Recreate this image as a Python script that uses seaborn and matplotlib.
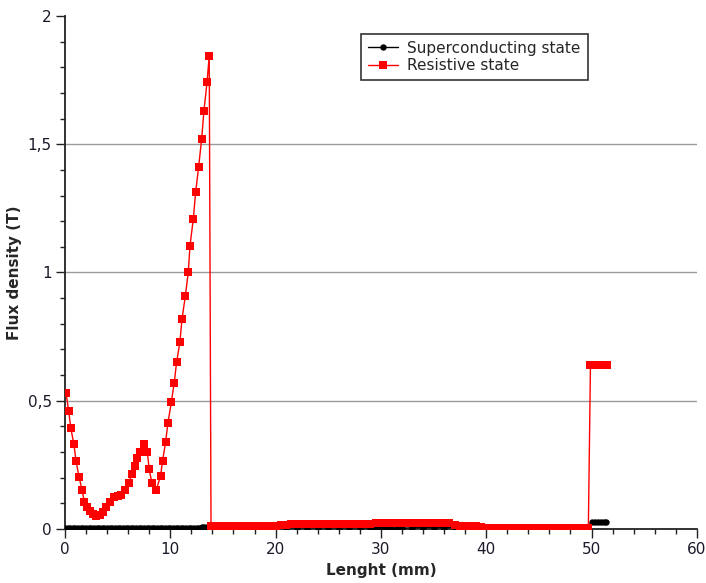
import numpy as np
import pandas as pd
import matplotlib
matplotlib.use("Agg")
import matplotlib.pyplot as plt
from matplotlib.ticker import MultipleLocator, FixedLocator, FixedFormatter
import seaborn as sns

# Resistive state: flux density along the sample (mm, T)
res_x = [0.1, 0.35, 0.55, 0.85, 1.05, 1.33, 1.63, 1.85, 2.1, 2.36, 2.67, 2.98,
         3.3, 3.61, 3.93, 4.24, 4.65, 5.03, 5.35, 5.73, 6.04, 6.36, 6.61, 6.87,
         7.15, 7.47, 7.82, 8.0, 8.26, 8.67, 9.08, 9.27, 9.56, 9.78, 10.1, 10.38,
         10.6, 10.92, 11.11, 11.43, 11.71, 11.87, 12.19, 12.41, 12.69, 12.98,
         13.2, 13.49, 13.7,
         13.87, 14.0, 14.5, 15.0, 15.5, 16.0, 16.5, 17.0, 17.5, 18.0, 18.5, 19.0,
         19.5, 20.0, 20.5, 21.0, 21.5, 22.0, 22.5, 23.0, 23.5, 24.0, 24.5, 25.0,
         25.5, 26.0, 26.5, 27.0, 27.5, 28.0, 28.5, 29.0, 29.5, 30.0, 30.5, 31.0,
         31.5, 32.0, 32.5, 33.0, 33.5, 34.0, 34.5, 35.0, 35.5, 36.0, 36.5, 37.0,
         37.5, 38.0, 38.5, 39.0, 39.5, 40.0, 40.5, 41.0, 41.5, 42.0, 42.5, 43.0,
         43.5, 44.0, 44.5, 45.0, 45.5, 46.0, 46.5, 47.0, 47.5, 48.0, 48.5, 49.0,
         49.5, 49.7,
         49.9, 50.2, 50.5, 50.8, 51.1, 51.5]
res_y = [0.531, 0.461, 0.395, 0.33, 0.266, 0.204, 0.152, 0.104, 0.087, 0.070,
         0.057, 0.051, 0.055, 0.068, 0.087, 0.107, 0.126, 0.129, 0.133, 0.152,
         0.178, 0.214, 0.246, 0.276, 0.301, 0.33, 0.301, 0.233, 0.178, 0.152,
         0.208, 0.266, 0.340, 0.414, 0.494, 0.571, 0.650, 0.730, 0.817, 0.908,
         1.001, 1.103, 1.210, 1.313, 1.410, 1.520, 1.631, 1.741, 1.844,
         0.012, 0.013, 0.013, 0.013, 0.013, 0.013, 0.013, 0.013, 0.013, 0.013,
         0.013, 0.013, 0.013, 0.013, 0.014, 0.015, 0.019, 0.019, 0.019, 0.019,
         0.019, 0.019, 0.019, 0.019, 0.019, 0.019, 0.019, 0.019, 0.019, 0.020,
         0.020, 0.021, 0.023, 0.023, 0.023, 0.023, 0.023, 0.023, 0.023, 0.023,
         0.023, 0.023, 0.023, 0.023, 0.023, 0.023, 0.022, 0.014, 0.012, 0.012,
         0.012, 0.011, 0.006, 0.005, 0.005, 0.005, 0.005, 0.005, 0.005, 0.005,
         0.005, 0.005, 0.005, 0.005, 0.005, 0.005, 0.005, 0.005, 0.005, 0.005,
         0.005, 0.005, 0.005, 0.005,
         0.640, 0.640, 0.640, 0.640, 0.640, 0.640]

# Superconducting state
sup_x = [0.0, 0.25, 0.5, 0.75, 1.0, 1.25, 1.5, 1.75, 2.0, 2.25, 2.5, 2.75,
         3.0, 3.25, 3.5, 3.75, 4.0, 4.25, 4.5, 4.75, 5.0, 5.25, 5.5, 5.75,
         6.0, 6.25, 6.5, 6.75, 7.0, 7.25, 7.5, 7.75, 8.0, 8.25, 8.5, 8.75,
         9.0, 9.25, 9.5, 9.75, 10.0, 10.25, 10.5, 10.75, 11.0, 11.25, 11.5,
         11.75, 12.0, 12.25, 12.5, 12.75, 13.0, 13.25, 13.5, 13.75,
         14.0, 15.0, 16.0, 17.0, 18.0, 19.0, 20.0, 21.0, 22.0, 23.0, 24.0,
         25.0, 26.0, 27.0, 28.0, 29.0, 29.5, 30.0, 30.5, 31.0, 31.5, 32.0,
         33.0, 34.0, 35.0, 36.0, 37.0, 38.0, 39.0, 40.0, 41.0, 42.0, 43.0,
         44.0, 45.0, 46.0, 47.0, 48.0, 49.0, 49.7,
         50.0, 50.3, 50.6, 50.9, 51.2, 51.4]
sup_y = [0.004, 0.004, 0.004, 0.004, 0.004, 0.004, 0.004, 0.004, 0.004, 0.004,
         0.004, 0.004, 0.004, 0.004, 0.004, 0.004, 0.004, 0.004, 0.004, 0.004,
         0.004, 0.004, 0.004, 0.004, 0.004, 0.004, 0.004, 0.004, 0.004, 0.004,
         0.004, 0.004, 0.004, 0.004, 0.004, 0.004, 0.004, 0.004, 0.004, 0.004,
         0.004, 0.004, 0.004, 0.004, 0.004, 0.004, 0.004, 0.004, 0.004, 0.004,
         0.005, 0.005, 0.006, 0.007, 0.008, 0.009,
         0.010, 0.006, 0.005, 0.005, 0.005, 0.005, 0.005, 0.005, 0.005, 0.005,
         0.005, 0.005, 0.005, 0.005, 0.005, 0.004, 0.003, 0.003, 0.003, 0.003,
         0.003, 0.003, 0.005, 0.005, 0.005, 0.005, 0.005, 0.005, 0.005, 0.005,
         0.005, 0.005, 0.005, 0.005, 0.005, 0.005, 0.005, 0.005, 0.005, 0.005,
         0.028, 0.028, 0.028, 0.028, 0.028, 0.028]

x_ticks = [0, 10, 20, 30, 40, 50, 60]
y_ticks = [0, 0.5, 1, 1.5, 2]
y_tick_labels = ["0", "0,5", "1", "1,5", "2"]

sup_df = pd.DataFrame({"x": sup_x, "y": sup_y})
res_df = pd.DataFrame({"x": res_x, "y": res_y})

sns.set_style("ticks")
plt.rcParams["font.family"] = ["DejaVu Sans"]

fig = plt.figure(figsize=(7.06, 5.83), dpi=100)
ax = fig.add_axes([0.092, 0.0926, 0.895, 0.88])

sns.lineplot(data=sup_df, x="x", y="y", ax=ax, color="black", marker="o",
             markersize=4.6, markeredgewidth=0, linewidth=1, sort=False,
             estimator=None, label="Superconducting state", zorder=3)
sns.lineplot(data=res_df, x="x", y="y", ax=ax, color="#ff0000", marker="s",
             markersize=6.2, markeredgewidth=0, linewidth=1, sort=False,
             estimator=None, label="Resistive state", zorder=4)

ax.set_xlim(0, 60)
ax.set_ylim(0, 2)
ax.xaxis.set_major_locator(FixedLocator(x_ticks))
ax.xaxis.set_minor_locator(MultipleLocator(2))
ax.yaxis.set_major_locator(FixedLocator(y_ticks))
ax.yaxis.set_major_formatter(FixedFormatter(y_tick_labels))
ax.yaxis.set_minor_locator(MultipleLocator(0.1))

for yv in y_ticks[1:-1]:
    ax.axhline(yv, color="#9a9a9a", linewidth=1, zorder=1)

for side in ("top", "right"):
    ax.spines[side].set_visible(False)
for side in ("left", "bottom"):
    ax.spines[side].set_color("#222222")
    ax.spines[side].set_linewidth(1.3)

ax.tick_params(which="major", direction="out", length=6.5, width=1,
               color="#222222", labelsize=11, labelcolor="#1a1a2a", pad=3)
ax.tick_params(which="minor", direction="out", length=3.8, width=1,
               color="#222222")

ax.set_xlabel("Lenght (mm)", fontsize=11, fontweight="bold", labelpad=4)
ax.set_ylabel("Flux density (T)", fontsize=11, fontweight="bold", labelpad=4)

leg = ax.legend(loc="upper left", bbox_to_anchor=(0.468, 0.965), fontsize=11,
                frameon=True, fancybox=False, edgecolor="#333333",
                framealpha=1, borderpad=0.45, handlelength=2.0,
                handletextpad=0.6, labelspacing=0.15, borderaxespad=0)
leg.get_frame().set_linewidth(1.2)

fig.savefig("out.png", dpi=100)
